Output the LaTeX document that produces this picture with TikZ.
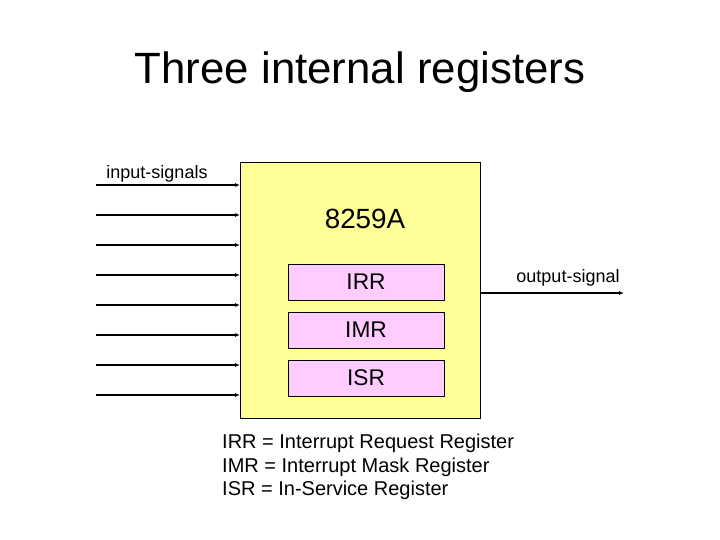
\documentclass[tikz,border=0pt]{standalone}
\usepackage{fontspec}
\setmainfont{Liberation Sans}
\usetikzlibrary{arrows.meta}
\definecolor{chipy}{HTML}{FFFF99}
\definecolor{regp}{HTML}{FFCCFF}
\tikzset{
  sig/.style={line width=1.3pt,-{Latex[length=5pt,width=4pt]}},
  regbox/.style={draw=black,fill=regp,line width=0.6pt,minimum width=156pt,minimum height=36pt,inner sep=0pt,font=\fontsize{22.7}{26}\selectfont},
  chip/.style={draw=black,fill=chipy,line width=0.6pt,minimum width=240pt,minimum height=256pt,inner sep=0pt},
  lbl/.style={inner sep=0pt,font=\fontsize{18}{21}\selectfont},
  legend/.style={inner sep=0pt,anchor=base west,font=\fontsize{20}{24}\selectfont}
}
\begin{document}
\begin{tikzpicture}[x=1pt,y=-1pt]
\useasboundingbox (0,0) rectangle (720,540);
\node[inner sep=0pt,anchor=base,font=\fontsize{43.8}{52}\selectfont] (title) at (360,84) {Three internal registers};
\node[chip] (chip) at (360,290) {};
\node[inner sep=0pt,font=\fontsize{27.8}{32}\selectfont] (name) at (365,219) {8259A};
\node[regbox] (irr) at (366,282) {IRR};
\node[regbox] (imr) at (366,330) {IMR};
\node[regbox] (isr) at (366,378) {ISR};
\node[lbl] (in) at (157,174) {input-signals};
\foreach \i/\y in {1/185,2/215,3/245,4/275,5/305,6/335,7/365,8/395}{
  \coordinate (s\i) at (96,\y);
  \coordinate (e\i) at (240,\y);
  \draw[sig] (s\i) -- (e\i);
}
\coordinate (os) at (480,293);
\coordinate (oe) at (624,293);
\draw[sig] (os) -- (oe);
\node[lbl] (out) at (568,278) {output-signal};
\node[legend] (l1) at (222,448) {IRR = Interrupt Request Register};
\node[legend] (l2) at (222,472) {IMR = Interrupt Mask Register};
\node[legend] (l3) at (222,495) {ISR = In-Service Register};
\end{tikzpicture}
\end{document}
